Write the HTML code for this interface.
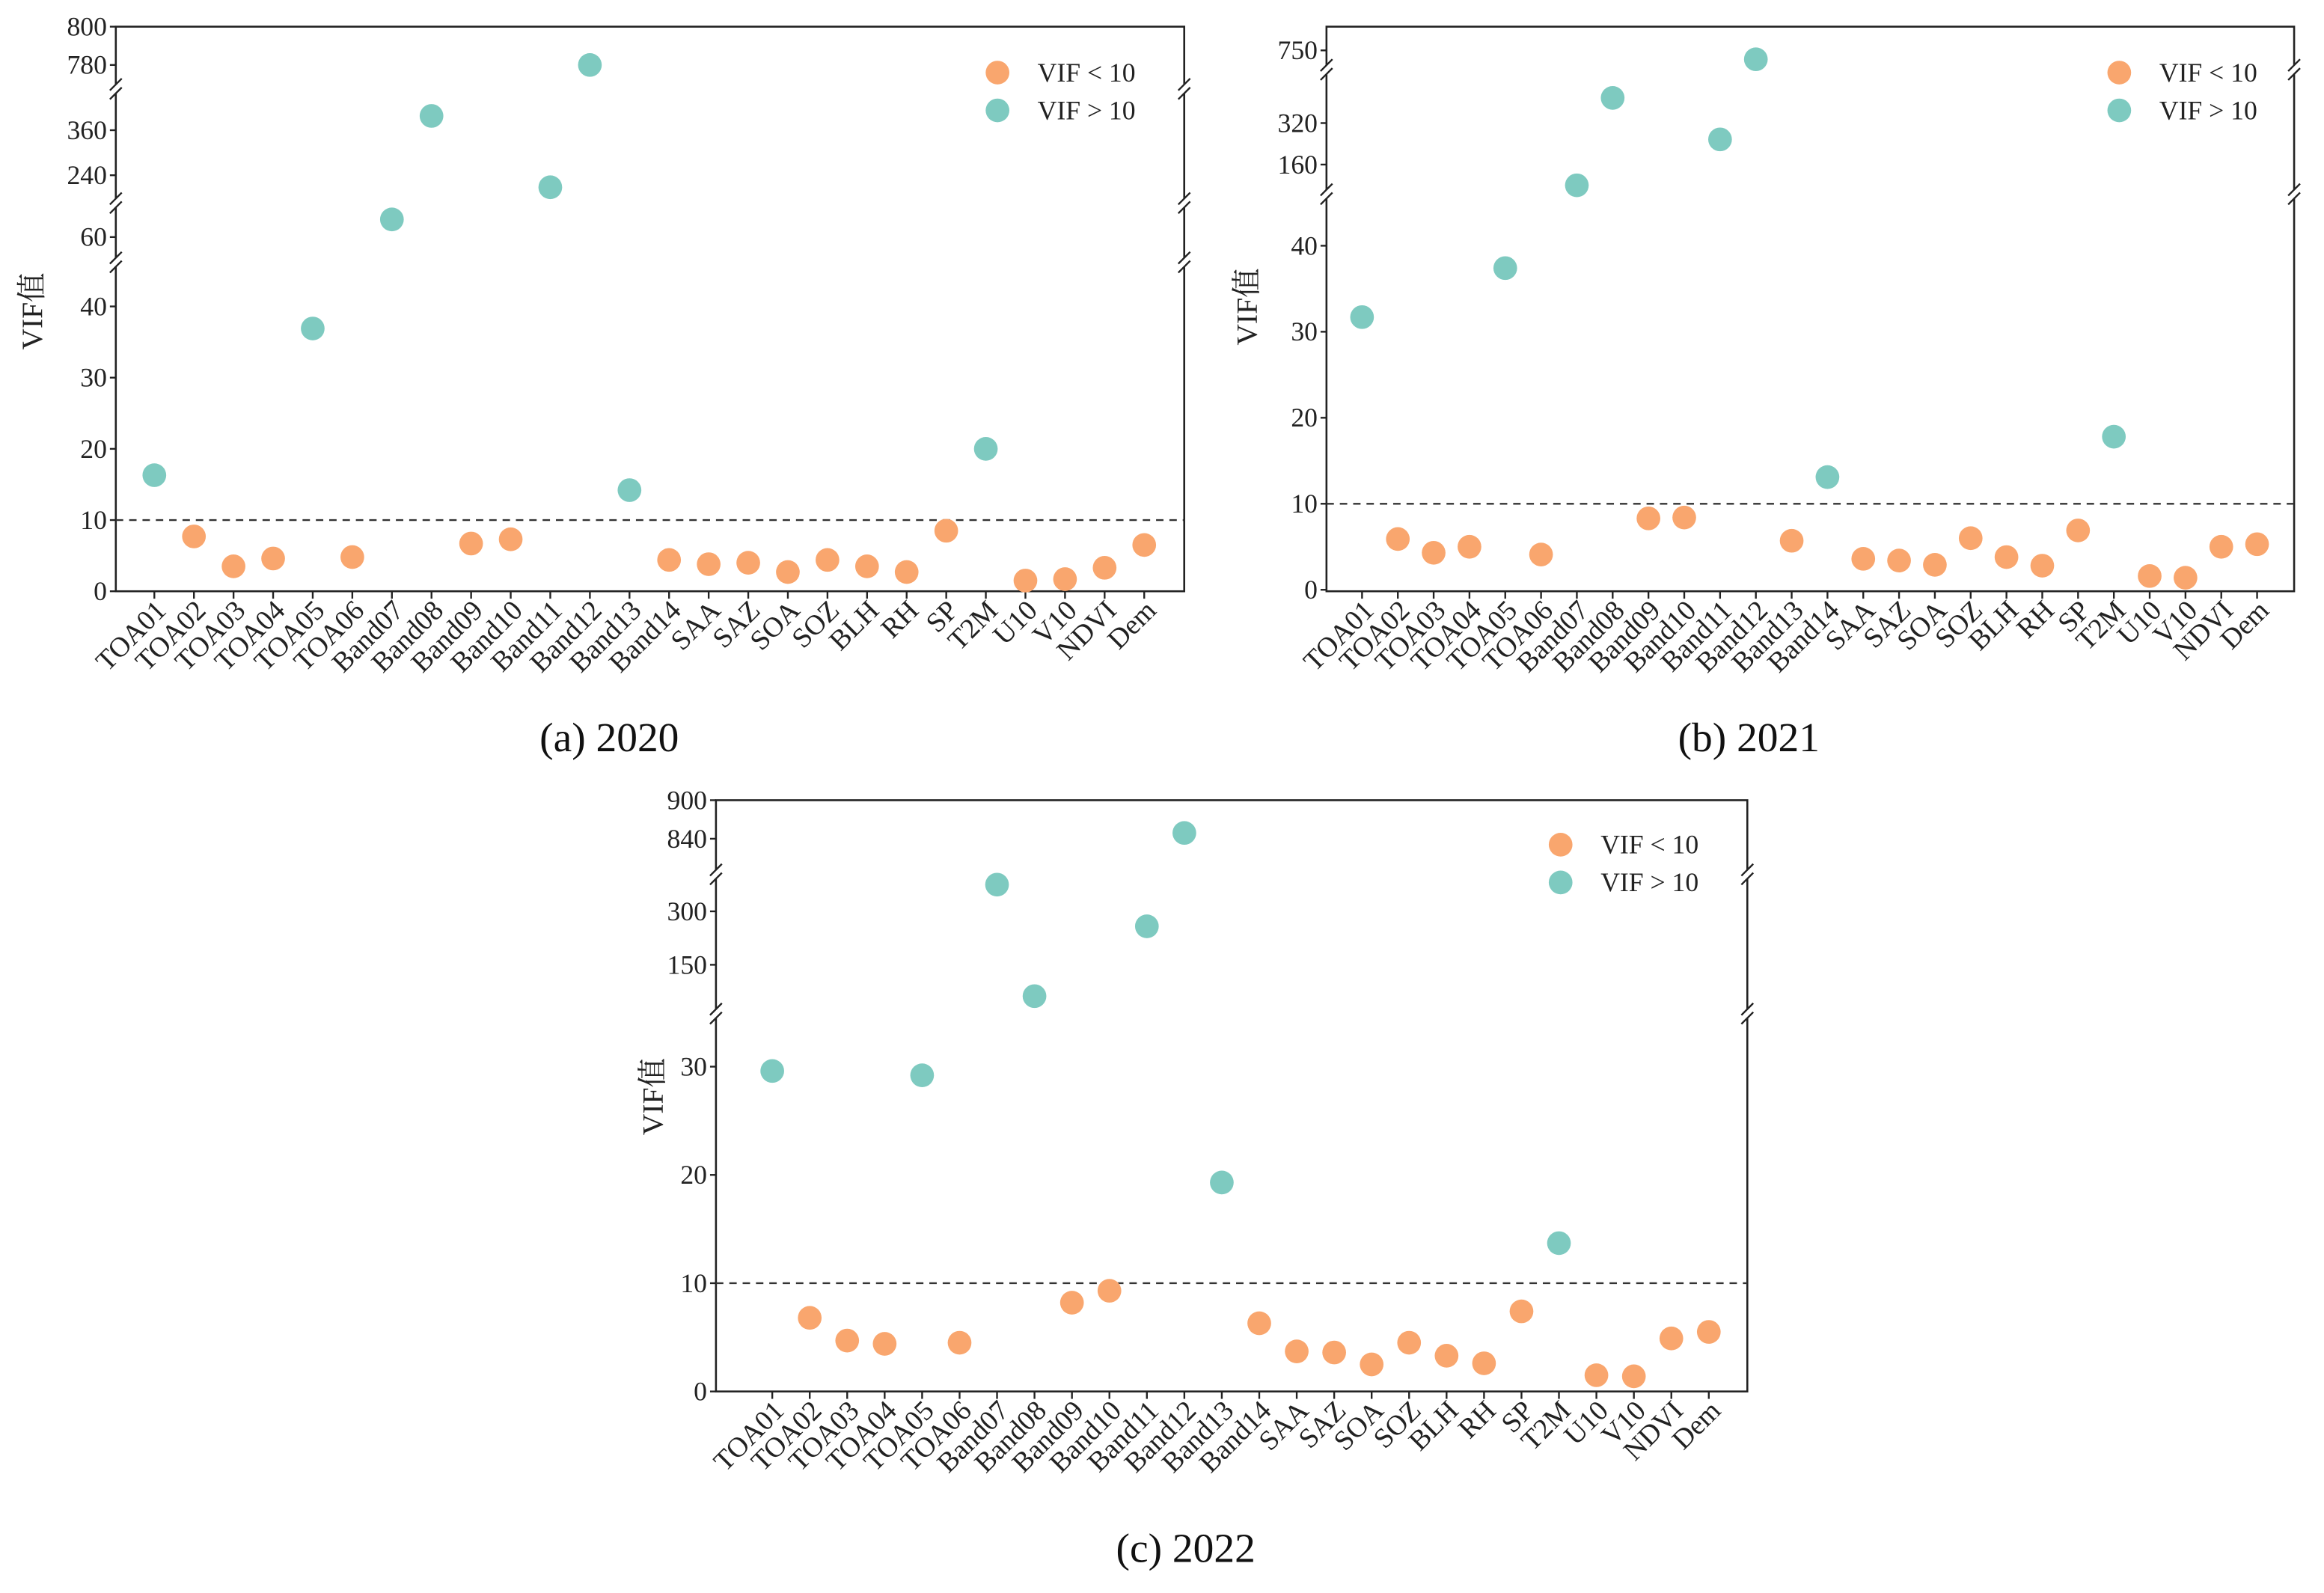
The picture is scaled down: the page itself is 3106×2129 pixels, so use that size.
<!DOCTYPE html>
<html><head><meta charset="utf-8"><style>html,body{margin:0;padding:0;background:#fff}svg{display:block}</style></head>
<body>
<svg id="chart" width="3106" height="2129" viewBox="0 0 1568 1075" xmlns="http://www.w3.org/2000/svg"></svg>
<script>
const categories=["TOA01","TOA02","TOA03","TOA04","TOA05","TOA06","Band07","Band08","Band09","Band10","Band11","Band12","Band13","Band14","SAA","SAZ","SOA","SOZ","BLH","RH","SP","T2M","U10","V10","NDVI","Dem"];
const vif2020=[16.3,7.7,3.5,4.6,36.9,4.8,67,398,6.7,7.3,208,780,14.2,4.4,3.8,4.0,2.7,4.4,3.5,2.7,8.5,20,1.5,1.7,3.3,6.5];
const vif2021=[31.7,5.9,4.3,5.0,37.4,4.1,80,417,8.3,8.4,257,744,5.7,13.1,3.6,3.4,2.9,6.0,3.8,2.8,6.9,17.8,1.6,1.4,5.0,5.3];
const vif2022=[29.6,6.8,4.7,4.4,29.2,4.5,375,62,8.2,9.3,258,849,19.3,6.3,3.7,3.6,2.5,4.5,3.3,2.6,7.4,13.7,1.5,1.4,4.9,5.5];
const ticks2020=[0,10,20,30,40,60,240,360,780,800];
const ticks2021=[0,10,20,30,40,160,320,750];
const ticks2022=[0,10,20,30,150,300,840,900];
const threshold=10;
const NS="http://www.w3.org/2000/svg";
const svg=document.getElementById('chart');
function mk(tag,attrs,parent){const e=document.createElementNS(NS,tag);for(const k in attrs)e.setAttribute(k,attrs[k]);(parent||svg).appendChild(e);return e;}
const ORANGE="#f9a66e",TEAL="#7ecac0";
const panels=[
 {id:"2020",cap:"(a) 2020",data:vif2020,ticks:ticks2020,x0:78,x1:799,top:18,bot:399,first:104,last:772,
  segs:[[0,46.2,399,177],[50,73.5,177,137],[166,470,137,60],[767.5,800,60,18]],leg:[673,49],ylab:[28,210],capXY:[411,507]},
 {id:"2021",cap:"(b) 2021",data:vif2021,ticks:ticks2021,x0:895,x1:1548,top:18,bot:399,first:919,last:1523,
  segs:[[0,46,398,131],[46,526,131,47],[737,766,47,18]],leg:[1430,49],ylab:[848,207],capXY:[1180,507]},
 {id:"2022",cap:"(c) 2022",data:vif2022,ticks:ticks2022,x0:483,x1:1179,top:540,bot:939,first:521,last:1153,
  segs:[[0,34.9,939,684],[13,404,684,590],[784.6,900,590,540]],leg:[1053,570],ylab:[447,740],capXY:[800,1054]}
];
panels.forEach(p=>{
 const g=mk('g',{});
 
 
 const xs=i=>p.first+(p.last-p.first)*i/(categories.length-1);
 const ys=v=>{for(const s of p.segs){if(v>=s[0]&&v<=s[1])return s[2]+(v-s[0])/(s[1]-s[0])*(s[3]-s[2]);}
   const s=p.segs[p.segs.length-1];return v>s[1]?s[3]:p.bot;};
 const fr=mk('rect',{x:p.x0,y:p.top,width:p.x1-p.x0,height:p.bot-p.top,fill:'none',stroke:'#222','stroke-width':1.3},g);
 
 
 for(let k=0;k<p.segs.length-1;k++){const yb=p.segs[k][3];
  [p.x0,p.x1].forEach(xx=>{
   mk('rect',{x:xx-3,y:yb-3,width:6,height:6,fill:'#fff'},g);
   const b1=mk('line',{x1:xx-4,y1:yb+1,x2:xx+4,y2:yb-7,stroke:'#222','stroke-width':1.2},g);
   
   
   mk('line',{x1:xx-4,y1:yb+7,x2:xx+4,y2:yb-1,stroke:'#222','stroke-width':1.2},g);
  });}
 p.ticks.forEach(t=>{const y=ys(t);
  mk('line',{x1:p.x0-4,y1:y,x2:p.x0,y2:y,stroke:'#222','stroke-width':1.2},g);
  const tx=mk('text',{x:p.x0-6,y:y+6,'text-anchor':'end','font-size':18,'font-family':'Liberation Serif, serif',fill:'#222'},g);
  tx.textContent=t;
  
  
 });
 const th=mk('line',{x1:p.x0,y1:ys(threshold),x2:p.x1,y2:ys(threshold),stroke:'#333','stroke-width':1.2,'stroke-dasharray':'5,4'},g);
 
 
 categories.forEach((c,i)=>{const x=xs(i);
  mk('line',{x1:x,y1:p.bot,x2:x,y2:p.bot+5,stroke:'#222','stroke-width':1.2},g);
  const tx=mk('text',{x:x+9,y:p.bot+14,'text-anchor':'end','font-size':19,'font-family':'Liberation Serif, serif',fill:'#222',transform:`rotate(-45 ${x+9} ${p.bot+14})`},g);
  tx.textContent=c;
  
  
 });
 p.data.forEach((v,i)=>{
  const c=mk('circle',{cx:xs(i),cy:ys(v),r:8,fill:v>threshold?TEAL:ORANGE},g);
  
  
 });
 [["VIF < 10",ORANGE],["VIF > 10",TEAL]].forEach((L,k)=>{
  const ly=p.leg[1]+k*25.5;
  const c=mk('circle',{cx:p.leg[0],cy:ly,r:8,fill:L[1]},g);
  
  
  const t=mk('text',{x:p.leg[0]+27,y:ly+6,'font-size':18,'font-family':'Liberation Serif, serif',fill:'#222'},g);
  t.textContent=L[0];
  
  
 });
 const yl=mk('text',{x:p.ylab[0],y:p.ylab[1],'text-anchor':'middle','font-size':20,'font-family':'Liberation Serif, Noto Serif CJK SC, serif',fill:'#222',transform:`rotate(-90 ${p.ylab[0]} ${p.ylab[1]})`},g);
 yl.textContent='VIF值';
 
 
 const cp=mk('text',{x:p.capXY[0],y:p.capXY[1],'text-anchor':'middle','font-size':28,'font-family':'Liberation Serif, serif',fill:'#111'},g);
 cp.textContent=p.cap;
 
 
});
</script>
</body></html>
